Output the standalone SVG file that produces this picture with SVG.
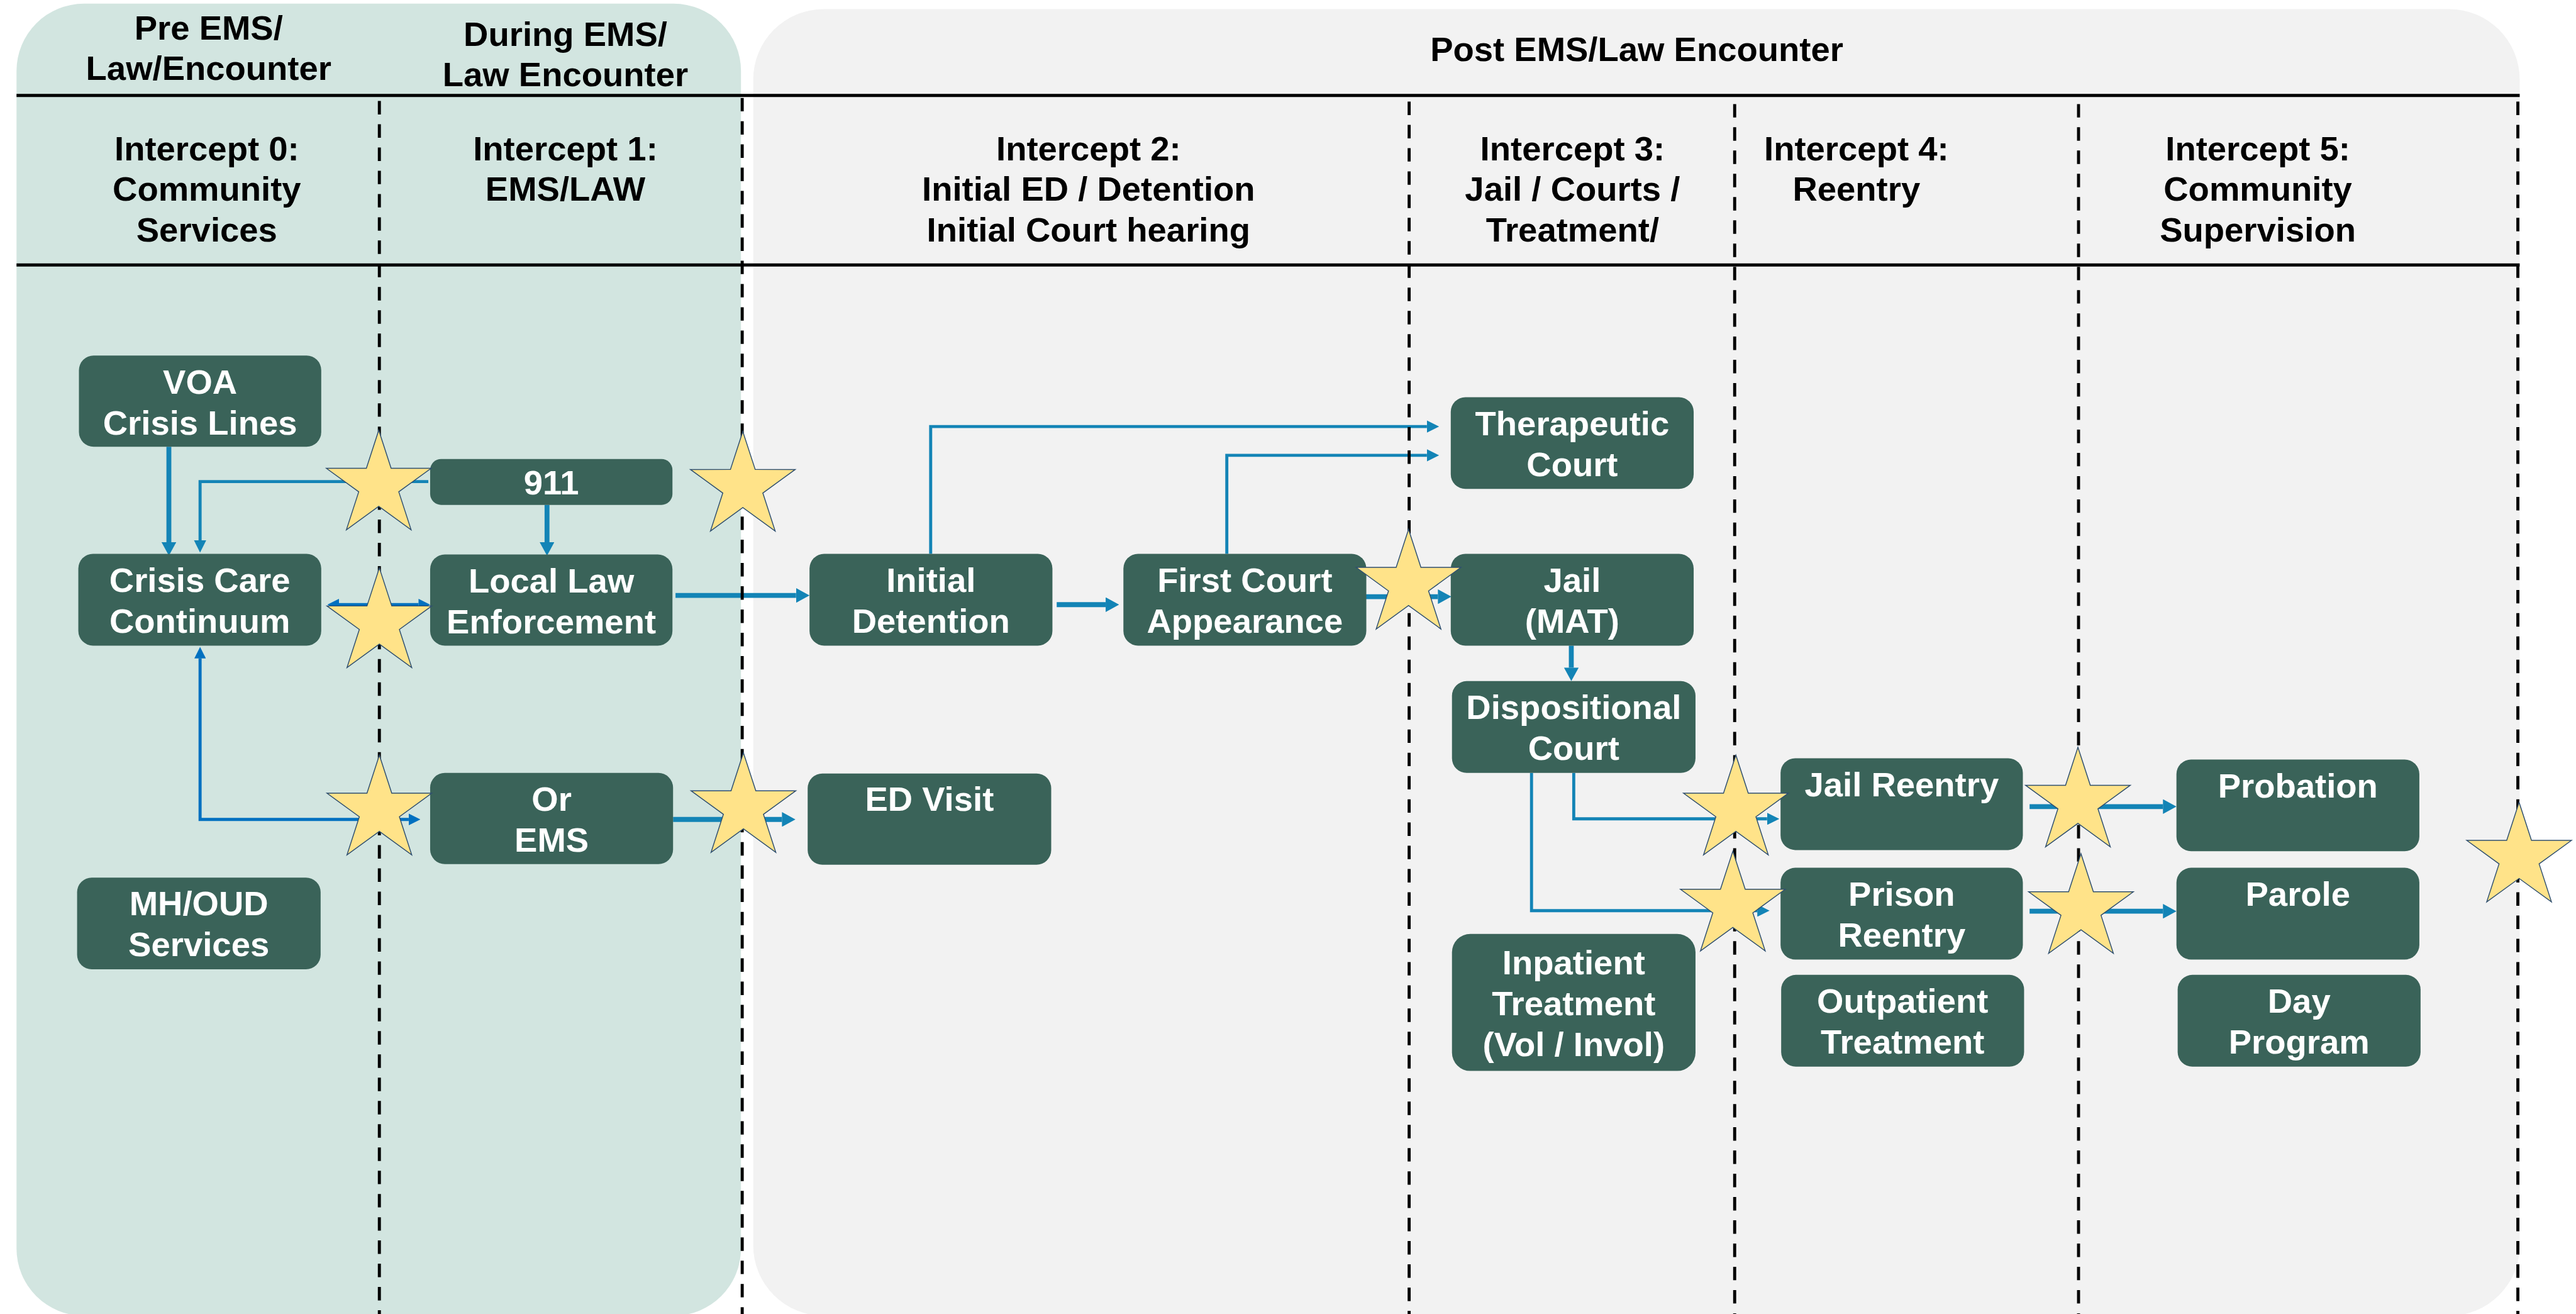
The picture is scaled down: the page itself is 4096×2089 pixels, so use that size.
<svg xmlns="http://www.w3.org/2000/svg" xmlns:xlink="http://www.w3.org/1999/xlink" width="4096" height="2089" viewBox="0 0 4096 2089">
  <style>
    .hdr { font-family: "Liberation Sans", Arial, sans-serif; font-weight: bold; font-size: 56px; fill: #000000; text-anchor: middle; }
    .lbl { font-family: "Liberation Sans", Arial, sans-serif; font-weight: bold; font-size: 56px; fill: #ffffff; text-anchor: middle; }
    .box { fill: #3a6359; }
    .rule { stroke: #000000; stroke-width: 5; fill: none; }
    .dash { stroke: #000000; stroke-width: 5; stroke-dasharray: 22 16; fill: none; }
    .thick { stroke: #1384b6; stroke-width: 8; fill: none; marker-end: url(#headThick); }
    .thin { stroke: #1384b6; stroke-width: 5; fill: none; marker-end: url(#headThin); }
    .dark { stroke: #0070c0; stroke-width: 5; fill: none; marker-start: url(#headDark); marker-end: url(#headDark); }
    .star { fill: #ffe389; stroke: #2f4f6f; stroke-width: 1.5; }
  </style>
  <defs>
    <marker id="headThick" viewBox="0 -12 22 24" markerWidth="22" markerHeight="24" refX="0" refY="0" markerUnits="userSpaceOnUse" orient="auto-start-reverse">
      <path d="M0,-12L22,0L0,12Z" fill="#1384b6"/>
    </marker>
    <marker id="headThin" viewBox="0 -10 20 20" markerWidth="20" markerHeight="20" refX="0" refY="0" markerUnits="userSpaceOnUse" orient="auto-start-reverse">
      <path d="M0,-10L20,0L0,10Z" fill="#1384b6"/>
    </marker>
    <marker id="headDark" viewBox="0 -9.5 19 19" markerWidth="19" markerHeight="19" refX="0" refY="0" markerUnits="userSpaceOnUse" orient="auto-start-reverse">
      <path d="M0,-9.5L19,0L0,9.5Z" fill="#0070c0"/>
    </marker>
    <path id="starShape" class="star" d="M0,-90L20.22,-27.83L85.6,-27.81L32.72,10.63L52.9,72.81L0,34.4L-52.9,72.81L-32.72,10.63L-85.6,-27.81L-20.22,-27.83Z"/>
  </defs>

  <rect x="0" y="0" width="4096" height="2089" fill="#ffffff"/>

  <g transform="scale(0.97292)">
    <!-- phase panels -->
    <g id="panels">
      <rect x="27" y="6" width="1184" height="2144" rx="110" ry="110" fill="#d2e5e0"/>
      <rect x="1231" y="15" width="2887" height="2135" rx="115" ry="115" fill="#f2f2f2"/>
    </g>

    <!-- header rules -->
    <g id="rules">
      <line class="rule" x1="27" y1="156" x2="4118" y2="156"/>
      <line class="rule" x1="27" y1="433" x2="4118" y2="433"/>
    </g>

    <!-- header labels -->
    <g id="headers">
      <text class="hdr" x="341" y="65">Pre EMS/</text>
      <text class="hdr" x="341" y="131">Law/Encounter</text>
      <text class="hdr" x="924" y="75">During EMS/</text>
      <text class="hdr" x="924" y="141">Law Encounter</text>
      <text class="hdr" x="2675" y="100">Post EMS/Law Encounter</text>

      <text class="hdr" x="338" y="262">Intercept 0:</text>
      <text class="hdr" x="338" y="328">Community</text>
      <text class="hdr" x="338" y="395">Services</text>

      <text class="hdr" x="924" y="262">Intercept 1:</text>
      <text class="hdr" x="924" y="328">EMS/LAW</text>

      <text class="hdr" x="1779" y="262">Intercept 2:</text>
      <text class="hdr" x="1779" y="328">Initial ED / Detention</text>
      <text class="hdr" x="1779" y="395">Initial Court hearing</text>

      <text class="hdr" x="2570" y="262">Intercept 3:</text>
      <text class="hdr" x="2570" y="328">Jail / Courts /</text>
      <text class="hdr" x="2570" y="395">Treatment/</text>

      <text class="hdr" x="3034" y="262">Intercept 4:</text>
      <text class="hdr" x="3034" y="328">Reentry</text>

      <text class="hdr" x="3690" y="262">Intercept 5:</text>
      <text class="hdr" x="3690" y="328">Community</text>
      <text class="hdr" x="3690" y="395">Supervision</text>
    </g>

    <!-- connectors -->
    <g id="connectors">
      <path class="thick" d="M276,730V886"/>
      <path class="thin" d="M700,787H327V883"/>
      <path class="thick" d="M894,825V886"/>
      <path class="dark" d="M554,988H684"/>
      <path class="thick" d="M1104,973H1301"/>
      <path class="thick" d="M1727,988H1807"/>
      <path class="thin" d="M1521,905V697H2332"/>
      <path class="thin" d="M2005,905V744H2332"/>
      <path class="thick" d="M2212,975H2350"/>
      <path class="thick" d="M2568,1055V1091"/>
      <path class="thin" d="M2572,1263V1338H2888"/>
      <path class="thin" d="M2503,1263V1488H2872"/>
      <path class="thick" d="M3317,1318H3535"/>
      <path class="thick" d="M3317,1489H3535"/>
      <path class="dark" d="M327,1076V1339H668"/>
      <path class="thick" d="M1100,1339H1278"/>
    </g>

    <!-- intercept boundaries -->
    <g id="boundaries">
      <line class="dash" x1="620" y1="165" x2="620" y2="2150"/>
      <line class="dash" x1="1213" y1="160" x2="1213" y2="2150"/>
      <line class="dash" x1="2303" y1="166" x2="2303" y2="2150"/>
      <line class="dash" x1="2835" y1="170" x2="2835" y2="2150"/>
      <line class="dash" x1="3397" y1="170" x2="3397" y2="2150"/>
      <line class="dash" x1="4115" y1="166" x2="4115" y2="2150"/>
    </g>

    <!-- nodes -->
    <g id="voa">
      <rect class="box" x="129" y="581" width="396" height="149" rx="24"/>
      <text class="lbl" x="327" y="643">VOA</text>
      <text class="lbl" x="327" y="710">Crisis Lines</text>
    </g>
    <g id="n911">
      <rect class="box" x="703" y="750" width="396" height="75" rx="18"/>
      <text class="lbl" x="901" y="808">911</text>
    </g>
    <g id="crisis-care">
      <rect class="box" x="128" y="905" width="397" height="150" rx="24"/>
      <text class="lbl" x="326.5" y="967">Crisis Care</text>
      <text class="lbl" x="326.5" y="1034">Continuum</text>
    </g>
    <g id="local-law">
      <rect class="box" x="703" y="906" width="396" height="149" rx="24"/>
      <text class="lbl" x="901" y="968">Local Law</text>
      <text class="lbl" x="901" y="1035">Enforcement</text>
    </g>
    <g id="or-ems">
      <rect class="box" x="703" y="1263" width="397" height="149" rx="24"/>
      <text class="lbl" x="901.5" y="1325">Or</text>
      <text class="lbl" x="901.5" y="1392">EMS</text>
    </g>
    <g id="mh-oud">
      <rect class="box" x="126" y="1434" width="398" height="150" rx="24"/>
      <text class="lbl" x="325" y="1496">MH/OUD</text>
      <text class="lbl" x="325" y="1562">Services</text>
    </g>
    <g id="ed-visit">
      <rect class="box" x="1320" y="1264" width="398" height="149" rx="24"/>
      <text class="lbl" x="1519" y="1325">ED Visit</text>
    </g>
    <g id="initial-detention">
      <rect class="box" x="1323" y="905" width="397" height="150" rx="24"/>
      <text class="lbl" x="1521.5" y="967">Initial</text>
      <text class="lbl" x="1521.5" y="1034">Detention</text>
    </g>
    <g id="first-court">
      <rect class="box" x="1836" y="905" width="397" height="150" rx="24"/>
      <text class="lbl" x="2034.5" y="967">First Court</text>
      <text class="lbl" x="2034.5" y="1034">Appearance</text>
    </g>
    <g id="jail">
      <rect class="box" x="2371" y="905" width="397" height="150" rx="24"/>
      <text class="lbl" x="2569.5" y="967">Jail</text>
      <text class="lbl" x="2569.5" y="1034">(MAT)</text>
    </g>
    <g id="therapeutic-court">
      <rect class="box" x="2371" y="649" width="397" height="150" rx="24"/>
      <text class="lbl" x="2569.5" y="711">Therapeutic</text>
      <text class="lbl" x="2569.5" y="778">Court</text>
    </g>
    <g id="dispositional-court">
      <rect class="box" x="2373" y="1113" width="398" height="150" rx="24"/>
      <text class="lbl" x="2572" y="1175">Dispositional</text>
      <text class="lbl" x="2572" y="1242">Court</text>
    </g>
    <g id="inpatient">
      <rect class="box" x="2373" y="1526" width="398" height="224" rx="30"/>
      <text class="lbl" x="2572" y="1592">Inpatient</text>
      <text class="lbl" x="2572" y="1659">Treatment</text>
      <text class="lbl" x="2572" y="1726">(Vol / Invol)</text>
    </g>
    <g id="jail-reentry">
      <rect class="box" x="2910" y="1239" width="396" height="150" rx="24"/>
      <text class="lbl" x="3108" y="1301">Jail Reentry</text>
    </g>
    <g id="prison-reentry">
      <rect class="box" x="2910" y="1418" width="396" height="150" rx="24"/>
      <text class="lbl" x="3108" y="1480">Prison</text>
      <text class="lbl" x="3108" y="1547">Reentry</text>
    </g>
    <g id="outpatient">
      <rect class="box" x="2911" y="1593" width="397" height="150" rx="24"/>
      <text class="lbl" x="3109.5" y="1655">Outpatient</text>
      <text class="lbl" x="3109.5" y="1722">Treatment</text>
    </g>
    <g id="probation">
      <rect class="box" x="3557" y="1241" width="397" height="150" rx="24"/>
      <text class="lbl" x="3755.5" y="1303">Probation</text>
    </g>
    <g id="parole">
      <rect class="box" x="3557" y="1418" width="397" height="150" rx="24"/>
      <text class="lbl" x="3755.5" y="1480">Parole</text>
    </g>
    <g id="day-program">
      <rect class="box" x="3559" y="1593" width="397" height="150" rx="24"/>
      <text class="lbl" x="3757.5" y="1655">Day</text>
      <text class="lbl" x="3757.5" y="1722">Program</text>
    </g>

    <!-- intercept markers -->
    <g id="stars">
      <use xlink:href="#starShape" x="619" y="793"/>
      <use xlink:href="#starShape" x="1214" y="795"/>
      <use xlink:href="#starShape" x="620" y="1018"/>
      <use xlink:href="#starShape" x="620" y="1324"/>
      <use xlink:href="#starShape" x="1215" y="1320"/>
      <use xlink:href="#starShape" x="2302" y="955"/>
      <use xlink:href="#starShape" x="2837" y="1324"/>
      <use xlink:href="#starShape" x="2832" y="1481"/>
      <use xlink:href="#starShape" x="3396" y="1311"/>
      <use xlink:href="#starShape" x="3401" y="1485"/>
      <use xlink:href="#starShape" x="4117" y="1401"/>
    </g>
  </g>
</svg>
